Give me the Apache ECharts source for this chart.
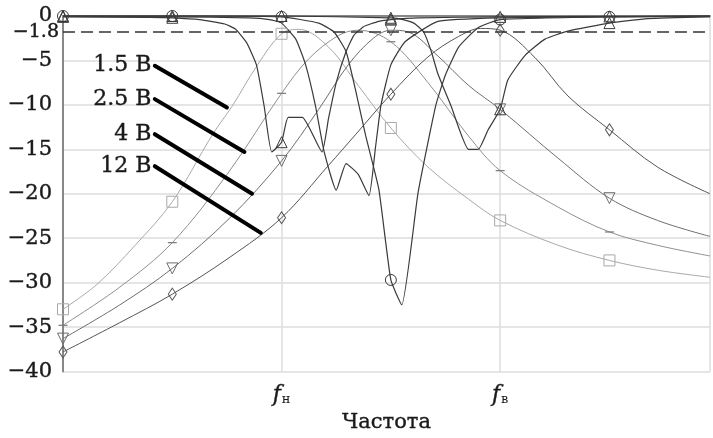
<!DOCTYPE html>
<html><head><meta charset="utf-8">
<script src="https://cdn.jsdelivr.net/npm/echarts@6/dist/echarts.min.js"></script>
<style>html,body{margin:0;padding:0;background:#fff}#c{width:713px;height:438px}</style>
</head><body><div id="c"></div>
<script>
// Frequency axis in grid steps: markers at 0..5, fн = 2, fв = 4
const xTickNames = {2: 'н', 4: 'в'};
const yLevelLabel = -1.8;

// Band-pass responses (1.5 В, 2.5 В, 4 В, 12 В)
const bp15X = [0, 0.31, 0.66, 1, 1.37, 1.55, 1.78, 2, 2.16, 2.43, 2.7, 3, 3.34, 3.71, 4, 4.53, 5, 5.44, 5.92];
const bp15Y = [-33, -30.2, -25.8, -20.9, -13.3, -10.1, -5.5, -2.0, -1.5, -3.5, -7.8, -12.6, -17.0, -20.6, -23.0, -25.8, -27.5, -28.6, -29.4];
const bp25X = [0, 0.52, 1, 1.52, 2, 2.25, 2.52, 2.7, 3, 3.34, 3.71, 4, 4.53, 5, 5.44, 5.92];
const bp25Y = [-34.8, -30.5, -25.5, -17.5, -8.7, -4.8, -2.2, -1.6, -2.9, -7.5, -13.5, -17.4, -21.5, -24.3, -25.8, -27.0];
const bp4X = [0, 0.52, 1, 1.52, 2, 2.34, 2.61, 2.84, 3, 3.16, 3.43, 3.71, 4, 4.53, 5, 5.44, 5.92];
const bp4Y = [-36.3, -32.5, -28.4, -22.8, -16.3, -10.5, -5.5, -2.5, -1.6, -1.8, -4.5, -7.8, -10.5, -16, -20.5, -23, -24.8];
const bp12X = [0, 0.52, 1, 1.52, 2, 2.43, 2.68, 3, 3.34, 3.62, 3.82, 4, 4.32, 4.62, 5, 5.44, 5.92];
const bp12Y = [-37.8, -34.5, -31.3, -27.2, -22.7, -16.8, -13.3, -8.8, -4.6, -2.3, -1.4, -1.6, -4.7, -9.0, -12.8, -17, -20];

// Reflection responses (dark curves)
const s11aX = [0, 0.79, 1, 1.25, 1.48, 1.58, 1.68, 1.77, 1.84, 1.91, 2, 2.06, 2.19, 2.37, 2.43, 2.50, 2.59, 2.66, 2.75, 2.89, 3, 3.25, 4, 5, 5.92];
const s11aY = [-0.1, -0.15, -0.2, -0.4, -0.9, -1.5, -3.0, -5.5, -10.1, -15.3, -14.2, -11.4, -11.4, -15.3, -11.5, -7.5, -4.0, -2.2, -1.2, -0.6, -0.4, -0.2, -0.1, -0.05, 0];
const s11bX = [0, 1, 1.70, 1.89, 2, 2.13, 2.22, 2.31, 2.39, 2.50, 2.59, 2.70, 2.80, 2.86, 2.91, 3, 3.13, 3.43, 4, 5, 5.92];
const s11bY = [-0.05, -0.1, -0.2, -0.4, -0.8, -2.6, -5.5, -10.1, -15.3, -19.6, -16.6, -17.8, -20.2, -14.7, -10, -5.5, -2.9, -0.6, -0.2, -0.1, -0.05];
const s11cX = [0, 1, 2, 2.34, 2.48, 2.59, 2.68, 2.77, 2.89, 3, 3.10, 3.25, 3.41, 3.50, 3.62, 3.80, 4, 5, 5.92];
const s11cY = [0, 0, -0.1, -0.8, -1.8, -4.0, -8.5, -13.5, -19.5, -29.7, -32.5, -19.8, -10.1, -6.6, -3.5, -1.3, -0.4, -0.1, 0];
const s11dX = [0, 1, 2, 3, 3.07, 3.21, 3.30, 3.37, 3.43, 3.55, 3.71, 3.80, 3.89, 4, 4.07, 4.23, 4.41, 4.62, 5, 5.35, 5.92];
const s11dY = [0, 0, 0, -0.2, -0.3, -0.8, -1.8, -4.0, -6.5, -10.1, -15, -15, -12.8, -10.5, -7.2, -4.4, -2.6, -1.7, -0.8, -0.3, -0.1];

// Voltage annotations (leader lines)
const leaderNames = ['1.5 В', '2.5 В', '4 В', '12 В'];
const leaderFrom = [[0.84, -5.6], [0.84, -9.35], [0.84, -13.3], [0.84, -16.9]];
const leaderTo = [[1.50, -10.3], [1.66, -15.3], [1.73, -20.0], [1.81, -24.4]];

const SERIF = 'DejaVu Serif';
const INK = '#1a1a1a';
const heavy = { textBorderColor: INK, textBorderWidth: 0.4 };

function pts(xs, ys) {
  return xs.map((x, i) => {
    const d = { value: [x, ys[i]] };
    if (!Number.isInteger(x)) d.symbol = 'none';
    return d;
  });
}

function curve(xs, ys, color, width, symbol, symbolSize, extra) {
  return Object.assign({
    type: 'line', data: pts(xs, ys), smooth: 0.35,
    symbol: symbol, symbolSize: symbolSize, showAllSymbol: true, clip: false,
    lineStyle: { color: color, width: width },
    itemStyle: { color: 'rgba(255,255,255,0)', borderColor: color, borderWidth: 1 },
    emphasis: { disabled: true }, silent: true, z: 3
  }, extra || {});
}

const series = [
  curve(bp15X, bp15Y, '#a9a9a9', 1, 'rect', 11),
  curve(bp25X, bp25Y, '#8f8f8f', 1, 'rect', [9, 1.2], { itemStyle: { color: '#777', borderWidth: 0 } }),
  curve(bp4X, bp4Y, '#6e6e6e', 1, 'triangle', 11, { symbolRotate: 180 }),
  curve(bp12X, bp12Y, '#555', 1, 'diamond', [8, 12]),
  curve(s11aX, s11aY, '#3a3a3a', 1.2, 'triangle', 11, { smooth: 0.15 }),
  curve(s11bX, s11bY, '#3a3a3a', 1.2, 'none', 1, { smooth: 0.15 }),
  curve(s11cX, s11cY, '#3a3a3a', 1.2, 'circle', 11, { smooth: 0.15 }),
  curve(s11dX, s11dY, '#3a3a3a', 1.2, 'triangle', 11, { smooth: 0.15 }),
  {
    type: 'line', data: [], silent: true,
    markLine: {
      silent: true, symbol: 'none', animation: false,
      lineStyle: { color: '#333', width: 1.5, type: [12, 6] },
      label: Object.assign({ show: true, position: 'start', distance: 4, formatter: '\u22121.8',
        fontFamily: SERIF, fontSize: 19, color: INK }, heavy),
      data: [{ yAxis: yLevelLabel }]
    }
  }
];

leaderNames.forEach((name, i) => {
  series.push({
    type: 'line', silent: true, clip: false, z: 5,
    data: [leaderFrom[i], leaderTo[i]],
    symbol: 'circle', symbolSize: 1, showAllSymbol: true,
    itemStyle: { color: '#000' },
    lineStyle: { color: '#000', width: 4, cap: 'round' },
    label: Object.assign({ show: true, position: 'left', distance: 3,
      formatter: p => p.dataIndex === 0 ? name : '',
      fontFamily: SERIF, fontSize: 22, color: INK }, heavy)
  });
});

const chart = echarts.init(document.getElementById('c'));
chart.setOption({
  animation: false,
  backgroundColor: '#fff',
  grid: { left: 63, right: 0, top: 16, bottom: 50 },
  xAxis: {
    type: 'value', min: 0, max: 5.92, interval: 2,
    name: 'Частота', nameLocation: 'middle', nameGap: 28,
    nameTextStyle: Object.assign({ fontFamily: SERIF, fontSize: 21, color: INK }, heavy),
    axisLine: { lineStyle: { color: '#888', width: 2 } },
    axisTick: { show: false },
    splitLine: { show: true, lineStyle: { color: '#dcdcdc', width: 1.5 } },
    axisLabel: {
      margin: 13,
      formatter: v => xTickNames[v] ? '{f|f}{s|' + xTickNames[v] + '}' : '',
      rich: {
        f: Object.assign({ fontFamily: SERIF, fontStyle: 'italic', fontSize: 22, color: INK }, heavy),
        s: { fontFamily: SERIF, fontSize: 13, color: INK, padding: [9, 0, 0, 1] }
      }
    }
  },
  yAxis: {
    type: 'value', min: -40, max: 0, interval: 5,
    axisLine: { show: true, lineStyle: { color: '#888', width: 2 } },
    axisTick: { show: false },
    splitLine: { show: true, lineStyle: { color: '#dcdcdc', width: 1.5 } },
    axisLabel: Object.assign({
      margin: 11, fontFamily: SERIF, fontSize: 21, color: INK,
      formatter: v => v === 0 ? '0' : '\u2212' + Math.abs(v)
    }, heavy)
  },
  series: series
});
</script>
</body></html>
